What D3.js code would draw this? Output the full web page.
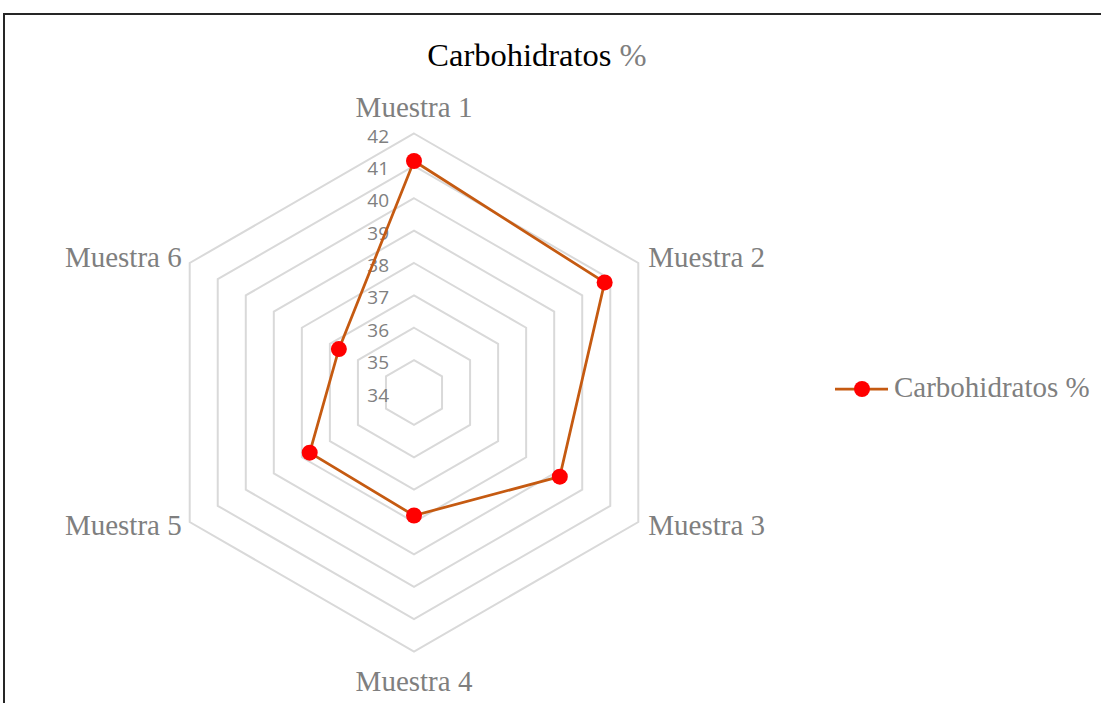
<!DOCTYPE html>
<html>
<head>
<meta charset="utf-8">
<script src="https://cdn.jsdelivr.net/npm/d3@7"></script>
<style>
  body { margin: 0; background: #fff; }
</style>
</head>
<body>
<div id="radar"></div>
<script>
// data
var categories = ["Muestra 1", "Muestra 2", "Muestra 3", "Muestra 4", "Muestra 5", "Muestra 6"];
var values = [41.15, 40.8, 39.2, 37.8, 37.72, 36.68];
var ticks = [34, 35, 36, 37, 38, 39, 40, 41, 42];
var seriesName = "Carbohidratos %";

var width = 1101, height = 703;
var cx = 414, cy = 392.5, radius = 259;

var svg = d3.select("#radar").append("svg")
    .attr("width", width)
    .attr("height", height);

// chart frame
svg.append("rect")
    .attr("x", 4).attr("y", 14)
    .attr("width", 1110).attr("height", 720)
    .style("fill", "none")
    .style("stroke", "#262626")
    .style("stroke-width", 2);

var r = d3.scaleLinear()
    .domain([34, 42])
    .range([0, radius]);

var angle = d3.scalePoint()
    .domain(categories)
    .range([0, 2 * Math.PI * (categories.length - 1) / categories.length]);

function pos(cat, v) {
  var a = angle(cat);
  return [cx + r(v) * Math.sin(a), cy - r(v) * Math.cos(a)];
}

var g = svg.append("g");

// grid hexagons
g.selectAll(".ring")
    .data(ticks.slice(1))
    .enter()
    .append("polygon")
    .attr("class", "ring")
    .attr("points", function (t) {
      return categories.map(function (c) { return pos(c, t).join(","); }).join(" ");
    })
    .style("fill", "none")
    .style("stroke", "#d9d9d9")
    .style("stroke-width", 2);

// tick labels
g.selectAll(".tick")
    .data(ticks)
    .enter()
    .append("text")
    .attr("x", cx - 25)
    .attr("y", function (t) { return cy - r(t) + 9; })
    .attr("text-anchor", "end")
    .style("font-family", "'Open Sans', 'Liberation Sans', Arial, sans-serif")
    .style("font-size", "19px")
    .style("fill", "#808080")
    .text(function (t) { return t; });

// category labels
var labelStyle = [
  {dx: 0, dy: -17, anchor: "middle"},
  {dx: 10, dy: 4, anchor: "start"},
  {dx: 10, dy: 13, anchor: "start"},
  {dx: 0, dy: 39, anchor: "middle"},
  {dx: -8, dy: 13, anchor: "end"},
  {dx: -8, dy: 4, anchor: "end"}
];

g.selectAll(".cat")
    .data(categories)
    .enter()
    .append("text")
    .attr("x", function (c, i) { return pos(c, 42)[0] + labelStyle[i].dx; })
    .attr("y", function (c, i) { return pos(c, 42)[1] + labelStyle[i].dy; })
    .attr("text-anchor", function (c, i) { return labelStyle[i].anchor; })
    .style("font-family", "'Liberation Serif', 'Times New Roman', serif")
    .style("font-size", "29px")
    .style("fill", "#7f7f7f")
    .text(function (c) { return c; });

// series line
var pts = categories.map(function (c, i) { return pos(c, values[i]); });

g.append("path")
    .attr("d", d3.line().curve(d3.curveLinearClosed)(pts))
    .style("fill", "none")
    .style("stroke", "#c55a11")
    .style("stroke-width", 2.75);

g.selectAll(".dot")
    .data(pts)
    .enter()
    .append("circle")
    .attr("cx", function (d) { return d[0]; })
    .attr("cy", function (d) { return d[1]; })
    .attr("r", 8)
    .style("fill", "#ff0000");

// title
var title = svg.append("text")
    .attr("x", 537)
    .attr("y", 66)
    .attr("text-anchor", "middle")
    .style("font-family", "'Liberation Serif', 'Times New Roman', serif")
    .style("font-size", "32.5px");
title.append("tspan").style("fill", "#000").text("Carbohidratos ");
title.append("tspan").style("fill", "#7f7f7f").text("%");

// legend
var legend = svg.append("g");
legend.append("line")
    .attr("x1", 835).attr("x2", 888)
    .attr("y1", 389).attr("y2", 389)
    .style("stroke", "#c55a11")
    .style("stroke-width", 2.75);
legend.append("circle")
    .attr("cx", 862).attr("cy", 389).attr("r", 8)
    .style("fill", "#ff0000");
legend.append("text")
    .attr("x", 894).attr("y", 397)
    .style("font-family", "'Liberation Serif', 'Times New Roman', serif")
    .style("font-size", "29px")
    .style("fill", "#7f7f7f")
    .text(seriesName);
</script>
</body>
</html>
